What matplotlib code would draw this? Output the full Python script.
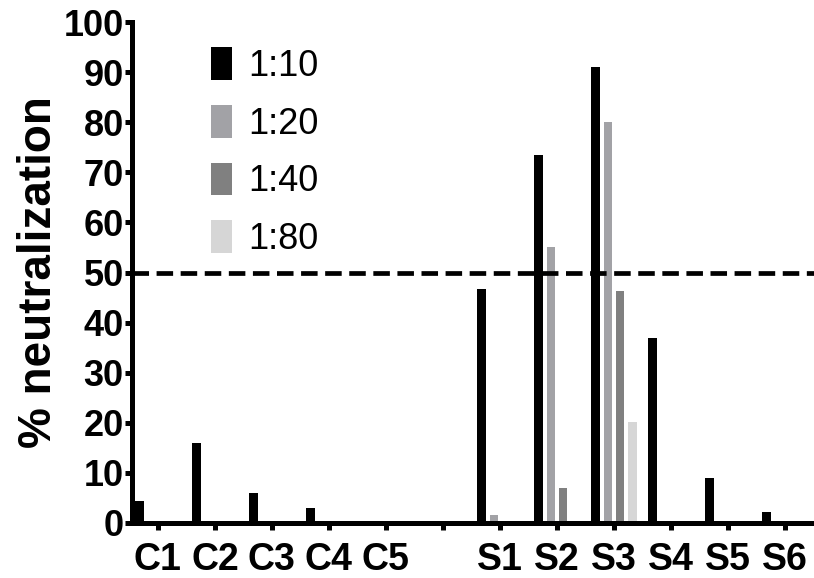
import matplotlib
matplotlib.use("Agg")
import matplotlib.pyplot as plt
import numpy as np

plt.rcParams['font.family'] = ['Liberation Sans', 'DejaVu Sans']

# samples; position 6 is an empty gap between the C and S groups
samples = ['C1', 'C2', 'C3', 'C4', 'C5', '', 'S1', 'S2', 'S3', 'S4', 'S5', 'S6']
dilutions = ['1:10', '1:20', '1:40', '1:80']

# % neutralization per dilution
neut_1_10 = [4.3, 16, 6, 3, 0, 0, 46.7, 73.5, 91, 37, 9, 2.2]
neut_1_20 = [0, 0, 0, 0, 0, 0, 1.6, 55, 80, 0, 0, 0]
neut_1_40 = [0, 0, 0, 0, 0, 0, 0, 7, 46.3, 0, 0, 0]
neut_1_80 = [0, 0, 0, 0, 0, 0, 0, 0, 20.2, 0, 0, 0]

colors = ['#000000', '#a2a2a6', '#808080', '#d6d6d6']
threshold = 50


def main():
    fig = plt.figure(figsize=(8.14, 5.78), dpi=100)
    ax = fig.add_axes([132 / 814, 55 / 578, 682 / 814, 501 / 578])

    x = np.arange(1, len(samples) + 1)
    offsets = [-0.325, -0.11, 0.11, 0.325]
    series = [neut_1_10, neut_1_20, neut_1_40, neut_1_80]
    for vals, off, col, lab in zip(series, offsets, colors, dilutions):
        ax.bar(x + off, vals, width=0.145, color=col, label=lab, linewidth=0)

    ax.axhline(threshold, color='black', linewidth=3.4, dashes=(3.5, 1.6))

    ax.set_xlim(0.545, 12.51)
    ax.set_ylim(0, 100)
    ax.set_yticks(np.arange(0, 101, 10))
    ax.set_xticks(x)
    ax.set_xticklabels(samples)

    for s in ['top', 'right']:
        ax.spines[s].set_visible(False)
    for s in ['left', 'bottom']:
        ax.spines[s].set_linewidth(3.6)
    ax.spines['left'].set_bounds(0, 100)

    ax.tick_params(axis='both', width=3.6, length=5, direction='out')
    ax.tick_params(axis='y', pad=1)
    ax.tick_params(axis='x', pad=9)
    for lab in ax.get_yticklabels():
        lab.set_fontsize(26)
        lab.set_fontweight('bold')
    for lab in ax.get_xticklabels():
        lab.set_fontsize(27)
        lab.set_fontweight('bold')

    ax.set_ylabel('% neutralization', fontsize=33, fontweight='bold', labelpad=2)

    ax.legend(loc='upper left', bbox_to_anchor=(186 / 814, 1 - 22 / 578),
              bbox_transform=fig.transFigure, frameon=False, fontsize=26,
              handlelength=0.58, handleheight=1.02, handletextpad=0.45,
              labelspacing=0.58, borderpad=0.2)

    fig.savefig('out.png', dpi=100)


if __name__ == "__main__":
    main()
